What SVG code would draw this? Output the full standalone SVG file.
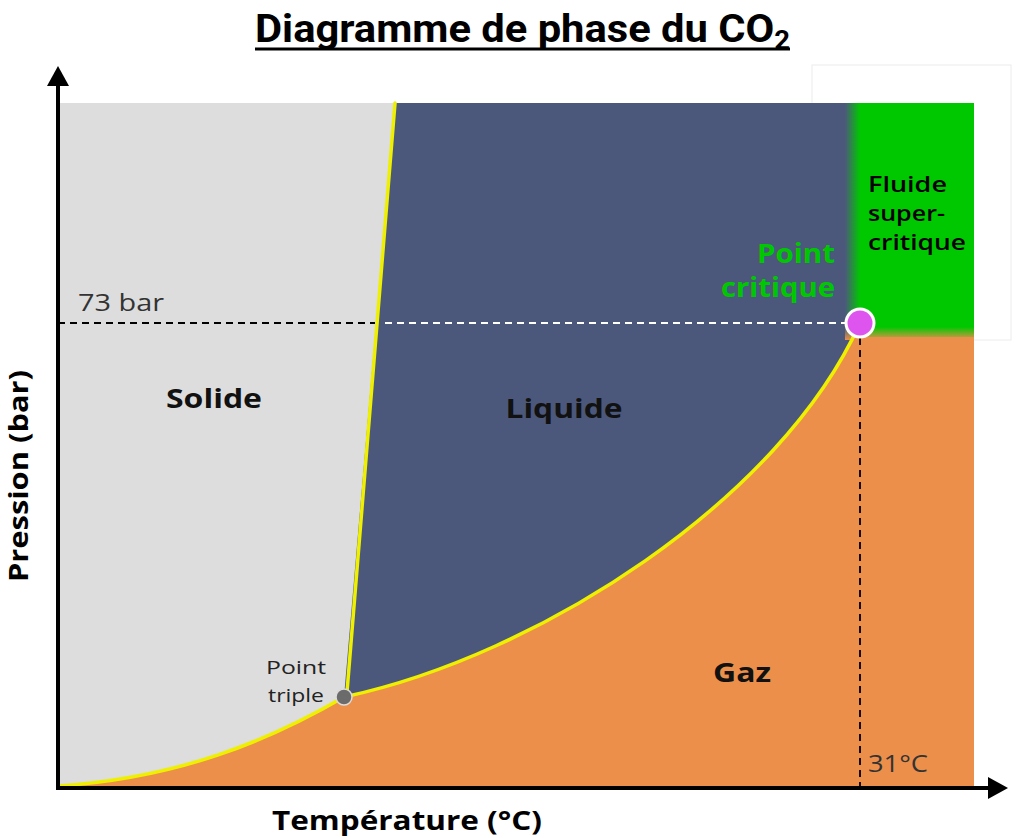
<svg xmlns="http://www.w3.org/2000/svg" width="1024" height="838" viewBox="0 0 1024 838">
<defs>
<style>
text{font-family:"Open Sans","Noto Sans","Liberation Sans",sans-serif;}
.lbl{font-weight:700;font-size:27px;fill:#111;text-anchor:middle;}
.ax{font-weight:700;font-size:27px;fill:#000;text-anchor:middle;}
.thin{font-weight:400;font-size:24px;fill:#333;}
.fl{font-weight:600;font-size:21px;fill:#000;}
.pt{font-weight:500;font-size:19px;fill:#222;text-anchor:middle;}
.pc{font-weight:700;font-size:26px;fill:#00c800;text-anchor:end;}
.bd{fill:none;stroke:#eef000;stroke-width:3.5;stroke-linecap:round;}
.dash{fill:none;stroke-width:1.8;stroke-dasharray:7 5;}
.axis{fill:none;stroke:#000;stroke-width:4;}
</style>
<linearGradient id="gL" x1="845" y1="0" x2="860" y2="0" gradientUnits="userSpaceOnUse">
<stop offset="0" stop-color="#4b587c"/><stop offset="1" stop-color="#00c800"/>
</linearGradient>
<linearGradient id="gB" x1="0" y1="327" x2="0" y2="340" gradientUnits="userSpaceOnUse">
<stop offset="0" stop-color="#ec8f4b" stop-opacity="0"/><stop offset="1" stop-color="#ec8f4b" stop-opacity="1"/>
</linearGradient>
</defs>
<rect width="1024" height="838" fill="#fff"/>
<rect x="812" y="65" width="199" height="275" fill="#fff" stroke="#ececec" stroke-width="1"/>

<g id="title">
<text x="255" y="42" textLength="535" lengthAdjust="spacingAndGlyphs" style="font-family:Roboto,'Liberation Sans',sans-serif;font-weight:700;font-size:38px;fill:#000">Diagramme de phase du CO<tspan dy="7" font-size="25">2</tspan></text>
<line x1="255" y1="49" x2="790" y2="49" stroke="#000" stroke-width="3"/>
</g>

<g id="solide">
<rect x="58" y="103" width="916" height="685" fill="#dddddd"/>
<text class="lbl" x="214" y="408" textLength="96" lengthAdjust="spacingAndGlyphs">Solide</text>
</g>
<g id="liquide">
<path d="M395,103 L344,697 C540,655 780,500 860,323 L860,103 Z" fill="#4b587c"/>
<text class="lbl" x="564" y="418" textLength="117" lengthAdjust="spacingAndGlyphs">Liquide</text>
</g>
<g id="gaz">
<path d="M58,786 C180,778 270,740 344,697 C540,655 780,500 860,323 L860,337 L974,337 L974,788 L58,788 Z" fill="#ec8f4b"/>
<text class="lbl" x="742" y="682" textLength="58" lengthAdjust="spacingAndGlyphs">Gaz</text>
</g>
<g id="fluide-supercritique">
<rect x="845" y="103" width="129" height="234" fill="url(#gL)"/>
<rect x="845" y="327" width="129" height="13" fill="url(#gB)"/>
<text class="fl" x="868" y="192" textLength="79" lengthAdjust="spacingAndGlyphs">Fluide</text>
<text class="fl" x="868" y="221" textLength="77" lengthAdjust="spacingAndGlyphs">super-</text>
<text class="fl" x="868" y="250" textLength="98" lengthAdjust="spacingAndGlyphs">critique</text>
</g>

<g id="connectors">
<path class="bd" d="M395,103 L347,692"/>
<path class="bd" d="M58,786 C180,778 270,740 344,697"/>
<path class="bd" d="M344,697 C540,655 780,500 860,323"/>
<line class="dash" x1="58" y1="323" x2="375" y2="323" stroke="#000"/>
<line class="dash" x1="385" y1="323" x2="846" y2="323" stroke="#fff"/>
<line class="dash" x1="860" y1="338" x2="860" y2="786" stroke="#000"/>
<line class="axis" x1="58" y1="788" x2="58" y2="84"/>
<polygon points="47,86 69,86 58,66" fill="#000"/>
<line class="axis" x1="56" y1="788" x2="990" y2="788"/>
<polygon points="988,777 988,799 1008,788" fill="#000"/>
</g>

<g id="point-triple">
<circle cx="344" cy="697" r="8" fill="#6b6b6b" stroke="#dcdcdc" stroke-width="1.5"/>
<text class="pt" x="296" y="674" textLength="60" lengthAdjust="spacingAndGlyphs">Point</text>
<text class="pt" x="296" y="702" textLength="56" lengthAdjust="spacingAndGlyphs">triple</text>
</g>
<g id="point-critique">
<circle cx="860" cy="323" r="14" fill="#dd55ee" stroke="#fff" stroke-width="3"/>
<text class="pc" x="835" y="263" textLength="78" lengthAdjust="spacingAndGlyphs">Point</text>
<text class="pc" x="835" y="297" textLength="114" lengthAdjust="spacingAndGlyphs">critique</text>
</g>

<g id="labels">
<text class="thin" x="78" y="311" textLength="86" lengthAdjust="spacingAndGlyphs">73 bar</text>
<text class="thin" x="868" y="772" textLength="60" lengthAdjust="spacingAndGlyphs">31°C</text>
<text class="ax" x="407" y="830" textLength="270" lengthAdjust="spacingAndGlyphs">Température (°C)</text>
<text class="ax" transform="translate(28,476) rotate(-90)" textLength="212" lengthAdjust="spacingAndGlyphs">Pression (bar)</text>
</g>
</svg>
